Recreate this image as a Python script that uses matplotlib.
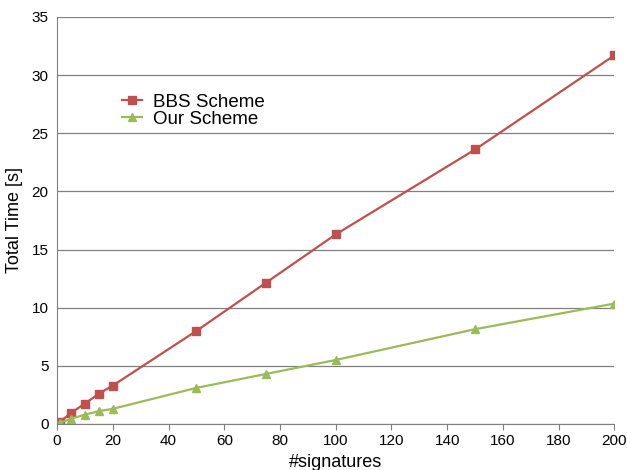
import matplotlib
matplotlib.use("Agg")
import matplotlib.pyplot as plt

# --- data ---
signatures = [1, 5, 10, 15, 20, 50, 75, 100, 150, 200]
bbs_time = [0.17, 0.95, 1.75, 2.6, 3.3, 8.0, 12.15, 16.3, 23.6, 31.7]
our_time = [0.1, 0.45, 0.8, 1.1, 1.3, 3.1, 4.3, 5.5, 8.15, 10.35]

plt.rcParams['font.family'] = ['Liberation Sans', 'DejaVu Sans']

fig, ax = plt.subplots(figsize=(6.27, 4.70), dpi=100)
fig.subplots_adjust(left=0.091, right=0.98, top=0.964, bottom=0.098)

ax.plot(signatures, bbs_time, color='#c0504d', marker='s', markersize=6,
        linewidth=1.6, label='BBS Scheme')
ax.plot(signatures, our_time, color='#9bbb59', marker='^', markersize=6,
        linewidth=1.6, label='Our Scheme')

ax.set_xlim(0, 200)
ax.set_ylim(0, 35)
ax.set_xticks(range(0, 201, 20))
ax.set_yticks(range(0, 36, 5))
ax.yaxis.grid(True, color='#808080', linewidth=0.9)
ax.set_axisbelow(True)

for side in ['top', 'right']:
    ax.spines[side].set_visible(False)
for side in ['left', 'bottom']:
    ax.spines[side].set_color('#808080')
ax.tick_params(axis='y', length=0, labelsize=11, pad=6)
ax.tick_params(axis='x', direction='out', length=4, color='#808080',
               labelsize=11)

ax.set_xlabel('#signatures', fontsize=13, labelpad=4)
ax.set_ylabel('Total Time [s]', fontsize=13, labelpad=6)

ax.legend(loc='upper left', bbox_to_anchor=(0.1, 0.835), frameon=False,
          fontsize=13.5, handlelength=1.05, labelspacing=0.0, borderpad=0,
          handletextpad=0.6)

plt.savefig('out.png', dpi=100)
